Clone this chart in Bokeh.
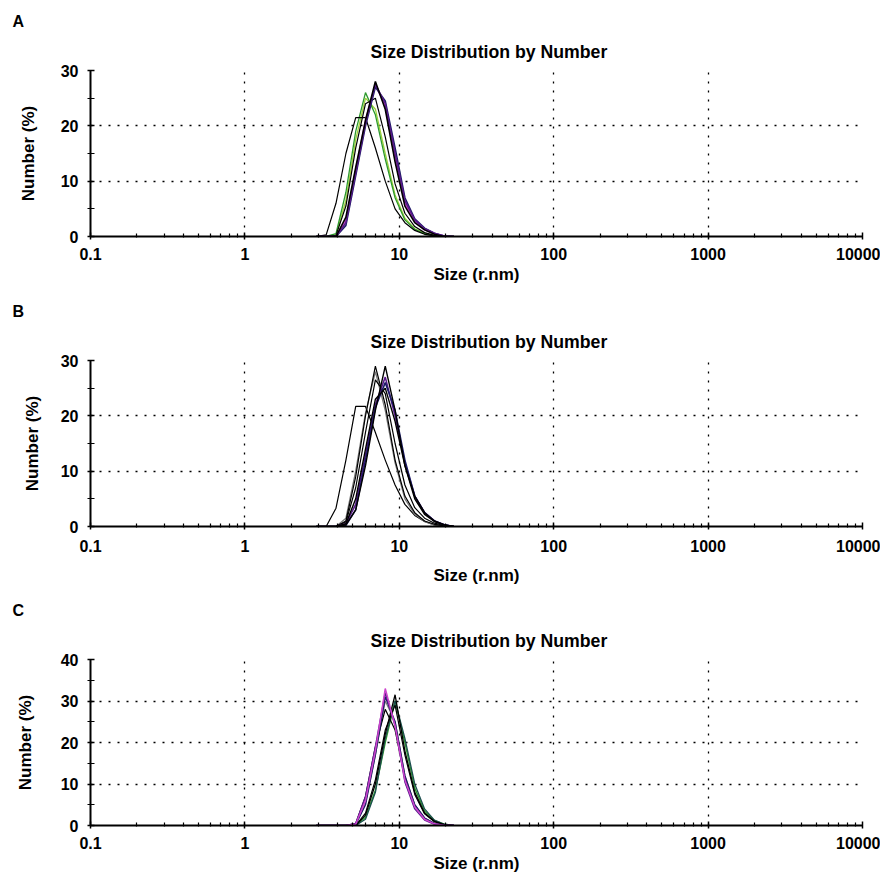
from bokeh.plotting import figure
from bokeh.models import FixedTicker, Range1d, Title
from bokeh.layouts import column
from bokeh.embed import file_html
from bokeh.resources import INLINE

# ---------------- data ----------------
SIZE_NM = [2.90, 3.36, 3.89, 4.51, 5.22, 6.04, 7.00, 8.11, 9.39, 10.87, 12.59, 14.58, 16.88, 19.55, 22.6]

# Panel A (Number %)
A_GREEN = [0, 0, 0.5, 8, 19, 26, 22, 14, 7, 3, 1.3, 0.5, 0.1, 0, 0]
A_LIGHTGREEN = [0, 0, 0.3, 6.5, 17.5, 25, 23, 15, 7.5, 3.3, 1.4, 0.6, 0.2, 0, 0]
A_SHOULDER = [0, 0.3, 6, 15, 21.5, 21.5, 16, 10, 5, 2.5, 1.1, 0.4, 0.1, 0, 0]
A_BLACK_2 = [0, 0, 0.2, 5.5, 16, 24, 25, 18, 9.5, 4.2, 1.8, 0.7, 0.2, 0, 0]
A_MAGENTA = [0, 0, 0, 3, 12, 21, 27.5, 23.5, 14, 6, 2.8, 1.2, 0.5, 0.1, 0]
A_NAVY = [0, 0, 0, 2, 11, 20, 27, 24.5, 16, 7, 3.2, 1.5, 0.6, 0.1, 0]
A_PURPLE = [0, 0, 0, 2.5, 11.5, 20.5, 27.5, 24, 15, 6.5, 3, 1.4, 0.6, 0.1, 0]
A_BLACK_1 = [0, 0, 0, 3.5, 12.5, 21, 28, 23, 13.5, 5.5, 2.5, 1.2, 0.4, 0, 0]

# Panel B
B_STEP = [0, 0, 3.3, 12, 21.7, 21.7, 17, 12, 7.5, 4, 2, 0.9, 0.3, 0, 0]
B_GRAY = [0, 0, 0, 1.5, 10, 20.5, 28, 21, 11.5, 5, 2.2, 0.9, 0.3, 0, 0]
B_BLACK_1 = [0, 0, 0, 1, 9, 20, 29, 22, 12, 5.5, 2.5, 1, 0.4, 0.1, 0]
B_BLACK_2 = [0, 0, 0, 0.8, 7, 17, 26.5, 24, 15, 7.5, 3.4, 1.5, 0.6, 0.2, 0]
B_PURPLE = [0, 0, 0, 0.5, 4, 13, 22, 27, 20, 11.5, 5.5, 2.5, 1, 0.3, 0]
B_NAVY = [0, 0, 0, 0.2, 3, 12, 21.5, 26, 21, 12, 5.5, 2.5, 1, 0.3, 0]
B_BLACK_3 = [0, 0, 0, 0.5, 5, 14, 23, 25, 19, 11, 5.5, 2.5, 1, 0.3, 0]
B_BLACK_4 = [0, 0, 0, 0.3, 3, 11, 21, 29, 21, 11, 5, 2.2, 0.9, 0.3, 0]

# Panel C
C_GREEN = [0, 0, 0, 0, 0, 2, 8.5, 20, 30, 20, 9, 3.5, 1.2, 0.3, 0]
C_TEAL = [0, 0, 0, 0, 0, 1.5, 8, 21, 30, 21, 10, 4, 1.3, 0.3, 0]
C_GRAY = [0, 0, 0, 0, 0.3, 5.5, 17, 30, 25, 12, 5, 1.8, 0.5, 0.1, 0]
C_BLACK_1 = [0, 0, 0, 0, 0, 2.5, 10, 22, 31.5, 18, 8, 3, 1, 0.2, 0]
C_BLACK_2 = [0, 0, 0, 0, 0, 3, 11, 23, 29, 17, 7.5, 2.8, 0.9, 0.2, 0]
C_BLACK_3 = [0, 0, 0, 0, 0.5, 7, 19, 28, 23, 11.5, 4.8, 1.7, 0.5, 0.1, 0]
C_NAVY = [0, 0, 0, 0, 0.2, 5, 17, 31, 25, 12, 5, 1.8, 0.5, 0, 0]
C_PURPLE = [0, 0, 0, 0, 0.5, 7, 19, 32, 24, 10.5, 4, 1.3, 0.3, 0, 0]
C_MAGENTA = [0, 0, 0, 0, 0.3, 6, 18, 33, 24, 11, 4.5, 1.5, 0.4, 0, 0]

X_TICKS = [0.1, 1, 10, 100, 1000, 10000]
X_TICK_LABELS = ["0.1", "1", "10", "100", "1000", "10000"]
Y_TICKS_AB = [0, 10, 20, 30]
Y_MINOR_AB = [5, 15, 25]
Y_TICKS_C = [0, 10, 20, 30, 40]
Y_MINOR_C = [5, 15, 25, 35]

TITLE = "Size Distribution by Number"
X_LABEL = "Size (r.nm)"
Y_LABEL = "Number (%)"

BLACK = "#000000"
PURPLE = "#5a1a8c"
NAVY = "#1c1c66"
MAGENTA = "#cc44cc"
GREEN = "#2e9a2e"
LIGHTGREEN = "#9fd23c"
GRAY = "#7a7a7a"
TEAL = "#1d4f4f"

FONT = "Liberation Sans"

X_MINOR = [k * d for d in [0.1, 1, 10, 100, 1000] for k in range(2, 10)]


def make_panel(letter, series, ymax, yticks, yminor, geo):
    p = figure(
        x_axis_type="log",
        x_range=Range1d(0.1, 10000),
        y_range=Range1d(0, ymax),
        frame_width=geo["fw"], frame_height=166,
        min_border_left=geo["bl"], min_border_right=geo["br"],
        min_border_top=geo["bt"], min_border_bottom=geo["bb"],
        output_backend="svg", toolbar_location=None, title=letter,
    )
    p.outline_line_color = None
    p.background_fill_color = "white"
    # panel letter (outermost title)
    p.title.text_font = FONT
    p.title.text_font_size = "16px"
    p.title.text_font_style = "bold"
    p.title.text_color = "black"
    p.title.align = "left"
    p.title.offset = -78
    p.title.standoff = 2

    # chart title (added later -> closer to the frame)
    mt = Title(text=TITLE, align="left", offset=280, standoff=18,
               text_font=FONT, text_font_size="17.7px", text_font_style="bold",
               text_color="black")
    p.add_layout(mt, "above")

    xa = p.xaxis[0]
    xa.ticker = FixedTicker(ticks=X_TICKS, minor_ticks=X_MINOR)
    xa.major_label_overrides = dict(zip(X_TICKS, X_TICK_LABELS))
    xa.axis_label = X_LABEL
    ya = p.yaxis[0]
    ya.ticker = FixedTicker(ticks=yticks, minor_ticks=yminor)
    ya.axis_label = Y_LABEL
    for ax in (xa, ya):
        ax.axis_line_width = 2
        ax.axis_line_color = "black"
        ax.major_tick_line_color = "black"
        ax.minor_tick_line_color = "black"
        ax.major_tick_line_width = 1.5
        ax.minor_tick_line_width = 1.2
        ax.major_label_text_font = FONT
        ax.major_label_text_font_size = "16px"
        ax.major_label_text_font_style = "bold"
        ax.major_label_text_color = "black"
        ax.axis_label_text_font = FONT
        ax.axis_label_text_font_size = "17px"
        ax.axis_label_text_font_style = "bold"
        ax.axis_label_text_color = "black"
    xa.major_tick_in = 4
    xa.major_tick_out = 3
    xa.minor_tick_in = 3
    xa.minor_tick_out = 1
    ya.major_tick_in = 4
    ya.major_tick_out = 3
    ya.minor_tick_in = 4
    ya.minor_tick_out = 3
    xa.major_label_standoff = geo["xls"]
    xa.axis_label_standoff = geo["xas"]
    ya.major_label_standoff = geo["yls"]
    ya.axis_label_standoff = geo["yas"]

    for g in (p.xgrid[0], p.ygrid[0]):
        g.grid_line_color = "black"
        g.grid_line_dash = "2 7"
        g.grid_line_width = 1.3

    for vals, col, w in series:
        p.line(SIZE_NM, vals, line_color=col, line_width=w)
    return p


pA = make_panel("A", [
    (A_LIGHTGREEN, LIGHTGREEN, 1.3), (A_GREEN, GREEN, 1.3), (A_SHOULDER, BLACK, 1.2),
    (A_BLACK_2, BLACK, 1.2), (A_MAGENTA, MAGENTA, 1.6), (A_NAVY, NAVY, 1.6),
    (A_PURPLE, PURPLE, 1.6), (A_BLACK_1, BLACK, 1.6)],
    30, Y_TICKS_AB, Y_MINOR_AB,
    dict(fw=772, bl=90, br=18, bt=70, bb=52, xls=8, xas=2, yls=9, yas=20))

pB = make_panel("B", [
    (B_STEP, BLACK, 1.2), (B_GRAY, GRAY, 1.3), (B_BLACK_1, BLACK, 1.2), (B_BLACK_2, BLACK, 1.2),
    (B_PURPLE, PURPLE, 1.6), (B_NAVY, NAVY, 1.6), (B_BLACK_3, BLACK, 1.4), (B_BLACK_4, BLACK, 1.4)],
    30, Y_TICKS_AB, Y_MINOR_AB,
    dict(fw=772, bl=90, br=18, bt=72, bb=60, xls=10, xas=11, yls=9, yas=16))

pC = make_panel("C", [
    (C_GREEN, GREEN, 1.4), (C_TEAL, TEAL, 1.3), (C_GRAY, GRAY, 1.2), (C_BLACK_1, BLACK, 1.3),
    (C_BLACK_2, BLACK, 1.2), (C_BLACK_3, BLACK, 1.2), (C_NAVY, NAVY, 1.4),
    (C_PURPLE, PURPLE, 1.4), (C_MAGENTA, MAGENTA, 1.5)],
    40, Y_TICKS_C, Y_MINOR_C,
    dict(fw=772, bl=90, br=18, bt=72, bb=52, xls=8, xas=2, yls=9, yas=23))

layout = column(pA, pB, pC, spacing=0)
open("out.html", "w").write(file_html(layout, INLINE))
